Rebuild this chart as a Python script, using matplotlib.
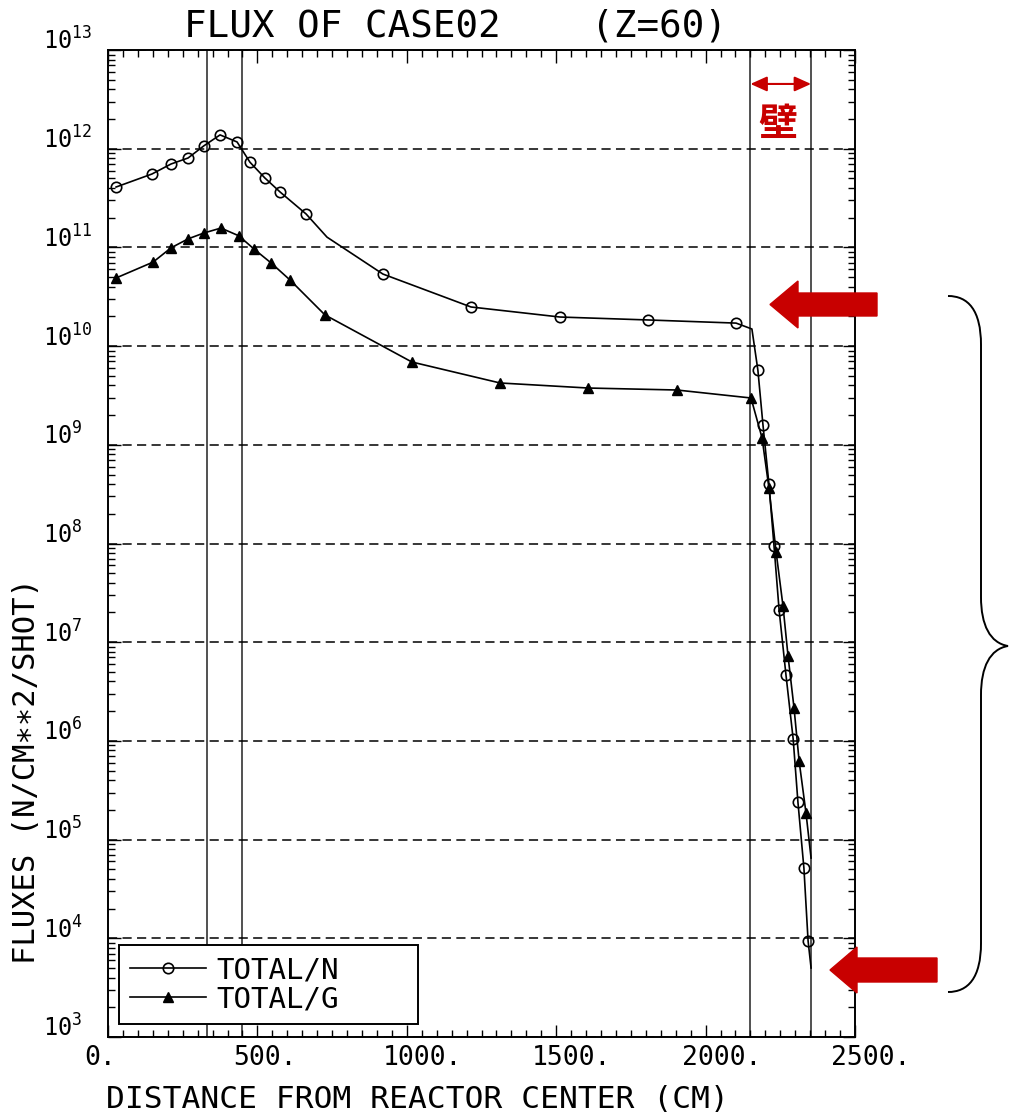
import matplotlib
matplotlib.use("Agg")
import matplotlib.pyplot as plt
from matplotlib.patches import FancyArrow, PathPatch
from matplotlib.path import Path
from matplotlib.transforms import Affine2D, ScaledTranslation
from matplotlib.ticker import MultipleLocator, LogLocator, NullFormatter, FixedLocator

plt.rcParams['font.family'] = ['DejaVu Sans Mono', 'DejaVu Sans']

# ---------------- data ----------------
# TOTAL/N  (line points; markers only at indices in n_marks)
n_x = [27, 147, 211, 268, 321, 375, 432, 475, 525, 576, 663, 733, 920, 1215, 1513, 1807,
       2102, 2155, 2175, 2192, 2212, 2229, 2246, 2269, 2293, 2309, 2329, 2343, 2353]
n_y = [4.09e11, 5.54e11, 7.0e11, 8.05e11, 1.07e12, 1.38e12, 1.17e12, 7.3e11, 5.05e11,
       3.64e11, 2.18e11, 1.27e11, 5.37e10, 2.49e10, 1.97e10, 1.84e10,
       1.71e10, 1.49e10, 5.7e9, 1.59e9, 4.0e8, 9.4e7, 2.12e7, 4.65e6, 1.05e6, 2.4e5,
       5.15e4, 9.4e3, 5.0e3]
n_marks = [0, 1, 2, 3, 4, 5, 6, 7, 8, 9, 10, 12, 13, 14, 15, 16,
           18, 19, 20, 21, 22, 23, 24, 25, 26, 27]

# TOTAL/G
g_x = [27, 151, 211, 268, 321, 378, 438, 489, 546, 609, 726, 1017, 1312, 1607, 1904,
       2152, 2189, 2212, 2236, 2259, 2276, 2296, 2313, 2336, 2353]
g_y = [4.9e10, 7.1e10, 9.9e10, 1.22e11, 1.40e11, 1.57e11, 1.31e11, 9.6e10, 6.95e10,
       4.68e10, 2.07e10, 6.9e9, 4.23e9, 3.76e9, 3.59e9,
       2.98e9, 1.17e9, 3.65e8, 8.2e7, 2.33e7, 7.2e6, 2.15e6, 6.25e5, 1.86e5, 6.5e4]
g_marks = list(range(0, 24))

# region boundaries (vertical lines)
boundaries = [330, 447, 2150, 2353]

series_labels = ["TOTAL/N", "TOTAL/G"]
x_ticks = [0, 500, 1000, 1500, 2000, 2500]
x_tick_labels = ["0.", "500.", "1000.", "1500.", "2000.", "2500."]
y_exponents = list(range(3, 14))

title = "FLUX OF CASE02    (Z=60)"
x_label = "DISTANCE FROM REACTOR CENTER (CM)"
y_label = "FLUXES (N/CM∗∗2/SHOT)"
wall_label = "壁"

# ---------------- figure ----------------
W, H = 1009, 1114
fig = plt.figure(figsize=(W / 100, H / 100), dpi=100)
ax = fig.add_axes([108 / W, 1 - 1037 / H, 747 / W, 987 / H])
pix = Affine2D().scale(1 / W, -1 / H).translate(0, 1) + fig.transFigure

ax.set_yscale('log')
ax.set_xlim(0, 2500)
ax.set_ylim(1e3, 1e13)

# grid
ax.yaxis.grid(True, which='major', linestyle=(0, (6, 3.5)), color='black', lw=1.1, zorder=1)
for b in boundaries:
    ax.axvline(b, color='#333333', lw=1.2, zorder=1)

red = '#C80000'
ln_n, = ax.plot(n_x, n_y, color='black', lw=1.2, marker='o', markevery=n_marks,
                markersize=7.5, markerfacecolor='none', markeredgecolor='black',
                markeredgewidth=1.2, zorder=3, label=series_labels[0])
ln_g, = ax.plot(g_x, g_y, color='black', lw=1.2, marker='^', markevery=g_marks,
                markersize=7, markerfacecolor='black', markeredgecolor='black',
                zorder=3, label=series_labels[1])

# ticks
ax.xaxis.set_major_locator(FixedLocator(x_ticks))
ax.xaxis.set_minor_locator(MultipleLocator(50))
ax.set_xticklabels(x_tick_labels, fontsize=19)
ax.yaxis.set_major_locator(FixedLocator([10.0 ** e for e in y_exponents]))
ax.yaxis.set_minor_locator(LogLocator(base=10, subs=range(2, 10), numticks=100))
ax.yaxis.set_minor_formatter(NullFormatter())
ax.set_yticklabels([r'$\mathregular{10^{%d}}$' % e for e in y_exponents], fontsize=17)
ax.tick_params(which='both', direction='in', top=True, right=True, width=1.0, colors='black')
ax.tick_params(which='major', length=9)
ax.tick_params(which='minor', length=5)
ax.tick_params(axis='x', which='major', pad=6)
ax.tick_params(axis='y', which='major', pad=0)
for lab in ax.get_xticklabels():
    lab.set_ha('left')
    lab.set_transform(lab.get_transform() + ScaledTranslation(-24 / 100, 0, fig.dpi_scale_trans))
for lab in ax.get_yticklabels():
    lab.set_ha('left')
    lab.set_va('baseline')
    lab.set_transform(lab.get_transform() + ScaledTranslation(-65 / 100, 0, fig.dpi_scale_trans))
for s in ax.spines.values():
    s.set_linewidth(1.4)

# legend
leg = ax.legend(handles=[ln_n, ln_g], loc='lower left',
                bbox_to_anchor=(0.0147, 0.013, 0.40, 0.08), mode='expand',
                borderaxespad=0, fontsize=21, handlelength=2.6, handletextpad=0.35,
                labelspacing=0.02, borderpad=0.38, fancybox=False, edgecolor='black',
                framealpha=1)
leg.get_frame().set_linewidth(1.4)

# texts
fig.text(184 / W, 1 - 26 / H, title, fontsize=27, ha='left', va='center')
fig.text(106 / W, 1 - 1100 / H, x_label, fontsize=22.5, ha='left', va='center')
fig.text(27 / W, 1 - 771 / H, y_label, fontsize=22, ha='center', va='center', rotation=90)

# red annotations
fig.text(778, 124, wall_label, transform=pix, fontsize=28, color=red, ha='center',
         va='center', family=['Noto Sans CJK JP'], fontweight='bold')
ax.annotate('', xy=(boundaries[3], 10 ** 12.656), xytext=(boundaries[2], 10 ** 12.656),
            arrowprops=dict(arrowstyle='<|-|>,head_length=1.0,head_width=0.45',
                            color=red, lw=1.5, shrinkA=0, shrinkB=0))
fig.add_artist(FancyArrow(877, 304.5, -107, 0, width=23, head_width=47, head_length=28,
                          length_includes_head=True, color=red, transform=pix))
fig.add_artist(FancyArrow(937, 970, -107, 0, width=24, head_width=46, head_length=27,
                          length_includes_head=True, color=red, transform=pix))

# brace
verts = [(948, 296), (968, 296), (981, 310), (981, 345),
         (981, 597),
         (981, 625), (990, 643), (1008, 646),
         (990, 649), (981, 667), (981, 695),
         (981, 943),
         (981, 978), (968, 992), (948, 992)]
codes = [Path.MOVETO, Path.CURVE4, Path.CURVE4, Path.CURVE4,
         Path.LINETO,
         Path.CURVE4, Path.CURVE4, Path.CURVE4,
         Path.CURVE4, Path.CURVE4, Path.CURVE4,
         Path.LINETO,
         Path.CURVE4, Path.CURVE4, Path.CURVE4]
fig.add_artist(PathPatch(Path(verts, codes), facecolor='none', edgecolor='black',
                         lw=1.4, transform=pix))

fig.savefig('out.png', dpi=100)
